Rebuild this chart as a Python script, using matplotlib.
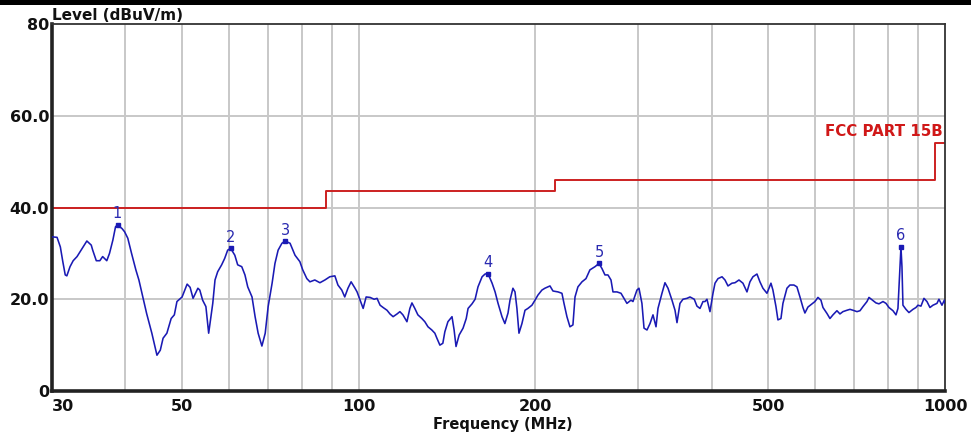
import matplotlib
matplotlib.use("Agg")
import matplotlib.pyplot as plt
from matplotlib.patches import Rectangle

# ---- data ----
freq_mhz = [30.0, 30.6, 31.0, 31.3, 31.6, 31.8, 32.2, 32.6, 33.1, 33.7, 34.4, 35.0, 35.2, 35.7,
            36.2, 36.6, 37.2, 37.6, 38.1, 38.5, 38.8, 39.5, 39.9, 40.4, 41.0, 41.7, 42.2, 42.9, 43.5,
            44.4, 45.3, 45.9, 46.4, 47.1, 47.9, 48.5, 49.0, 50.0, 51.0, 51.6, 52.2, 53.2,
            53.6, 54.2, 54.9, 55.5, 56.4, 56.9, 57.5, 58.4, 59.1, 59.8, 60.5, 61.5, 62.2, 63.2, 64.0, 64.7,
            65.8, 66.6, 67.4, 68.4, 69.3, 70.1, 71.2, 72.0, 72.9, 74.0, 74.9, 76.4, 77.9,
            79.4, 80.3, 81.6, 82.6, 84.2, 85.9, 87.6, 89.3, 91.1, 92.2, 93.6, 94.7, 95.9,
            97.1, 98.6, 99.4, 100.6, 101.8, 103.0, 104.6, 106.3, 107.5, 108.8, 110.1, 111.8, 113.1, 114.5, 116.3,
            117.6, 119.0, 120.9, 122.3, 123.3, 124.7, 126.2, 128.2, 129.7, 131.3, 133.3, 134.9, 136.0, 137.6, 139.2, 140.3, 142.0,
            144.3, 145.5, 146.6, 148.4, 150.7, 152.6, 153.7, 156.1, 158.0, 159.8, 162.4, 164.3, 166.2, 168.9, 170.9, 172.9,
            175.6, 177.6, 179.8, 181.2, 183.3, 184.8, 186.2, 187.7, 189.9, 192.2, 194.4, 197.5, 199.9, 202.2, 205.4, 207.8,
            212.0, 214.5, 218.8, 222.2, 224.0, 226.6, 229.3, 232.0, 233.9, 236.6, 240.4, 244.2, 248.0, 253.0, 257.0,
            260.0, 263.1, 266.2, 269.4, 271.5, 275.8, 280.2, 283.5, 286.8, 291.4, 293.7, 298.3, 300.7, 304.2, 306.7, 310.3,
            314.0, 317.7, 321.5, 324.0, 329.1, 333.0, 337.0, 342.3, 346.4, 349.1, 353.2, 357.4, 363.1, 367.4, 373.6, 377.6,
            382.1, 386.6, 389.7, 392.7, 397.4, 402.1, 405.3, 410.1, 416.6, 421.5, 426.5, 433.2, 438.4, 445.3, 452.3, 459.5,
            464.9, 470.4, 477.9, 483.5, 489.2, 497.0, 504.9, 508.8, 514.9, 518.9, 525.1, 529.2, 537.6, 543.9, 552.5, 559.1,
            565.8, 572.5, 576.9, 583.8, 593.1, 600.1, 607.2, 614.4, 619.3, 629.1, 636.5, 644.1, 654.2, 662.0, 669.8, 680.4,
            688.6, 696.8, 707.8, 716.2, 724.7, 736.1, 741.9, 753.7, 762.6, 771.6, 783.9, 793.2, 802.5, 815.2, 824.9, 831.3,
            837.9, 841.2, 844.5, 847.8, 857.9, 868.0, 881.8, 892.2, 899.2, 909.9, 920.7, 931.6, 942.6, 953.8, 968.9, 976.5,
            988.1, 997.4, 1000.0]
level_dbuv = [33.6, 33.5, 31.4, 28.2, 25.3, 25.1, 27.1, 28.4, 29.3, 30.9, 32.7, 31.8, 30.7, 28.4,
              28.4, 29.3, 28.4, 30.0, 32.9, 35.8, 36.2, 35.4, 34.7, 33.3, 30.0, 26.4, 24.2, 20.2, 16.9,
              12.6, 7.8, 8.9, 11.5, 12.6, 15.8, 16.6, 19.5, 20.5, 23.3, 22.6, 20.2, 22.4,
              22.0, 19.8, 18.4, 12.6, 19.1, 24.2, 26.0, 27.5, 28.9, 30.7, 31.1, 29.6, 27.5, 27.1, 25.3, 22.7,
              20.5, 16.2, 12.6, 9.8, 12.6, 18.4, 23.5, 27.8, 30.7, 32.2, 32.7, 32.2, 29.6,
              28.2, 26.4, 24.5, 23.8, 24.2, 23.6, 24.2, 24.9, 25.1, 23.1, 22.0, 20.5, 22.4,
              23.8, 22.4, 21.6, 19.8, 18.0, 20.5, 20.4, 20.0, 20.2, 18.7, 18.2, 17.6, 16.8, 16.2, 16.8,
              17.3, 16.6, 15.1, 18.0, 19.2, 18.0, 16.6, 15.8, 15.1, 14.0, 13.3, 12.6, 11.5, 10.0, 10.4, 12.9, 15.1,
              16.2, 13.3, 9.7, 12.2, 13.7, 15.8, 18.0, 19.0, 20.0, 22.7, 24.9, 25.5, 25.6, 23.5, 21.6, 19.1,
              16.2, 14.7, 17.0, 19.8, 22.4, 21.6, 18.0, 12.6, 14.7, 17.6, 18.0, 18.7, 19.8, 20.9, 22.0, 22.4,
              22.9, 21.8, 21.6, 21.3, 19.1, 16.2, 14.0, 14.4, 20.5, 22.7, 23.8, 24.5, 26.4, 27.1, 27.8,
              26.7, 25.3, 25.3, 24.2, 21.6, 21.6, 21.3, 20.2, 19.1, 19.8, 19.5, 22.0, 22.4, 19.1, 13.7, 13.3,
              14.7, 16.6, 14.0, 18.0, 21.3, 23.6, 22.4, 19.8, 17.6, 14.9, 19.1, 20.0, 20.2, 20.5, 20.0, 18.5,
              18.0, 19.5, 19.5, 20.0, 17.3, 21.3, 23.5, 24.5, 24.9, 24.2, 22.9, 23.5, 23.6, 24.2, 23.5, 21.6,
              23.8, 24.9, 25.5, 23.8, 22.4, 21.3, 23.5, 22.0, 18.4, 15.5, 15.8, 19.1, 22.4, 23.1, 23.1, 22.7,
              20.5, 18.2, 17.0, 18.3, 19.0, 19.5, 20.4, 19.8, 18.2, 16.9, 15.8, 16.6, 17.5, 16.8, 17.3, 17.6,
              17.8, 17.6, 17.3, 17.5, 18.4, 19.5, 20.4, 19.7, 19.2, 19.0, 19.5, 19.1, 18.2, 17.5, 16.6, 18.0,
              27.1, 31.4, 27.1, 18.7, 17.8, 17.1, 17.8, 18.2, 18.7, 18.5, 20.2, 19.5, 18.2, 18.7, 19.1, 20.0,
              18.7, 19.8, 19.2]

marker_ids = ["1", "2", "3", "4", "5", "6"]
marker_freq = [38.8, 60.5, 74.9, 166.2, 257.0, 841.2]
marker_level = [36.2, 31.1, 32.7, 25.6, 27.8, 31.4]

limit_freq = [30, 88, 216, 960, 1000]
limit_level = [40, 43.5, 46, 54, 54]
limit_name = "FCC PART 15B"

x_grid = [40, 50, 60, 70, 80, 90, 100, 200, 300, 400, 500, 600, 700, 800, 900]
x_tick_vals = [30, 50, 100, 200, 500, 1000]
x_tick_labels = ["30", "50", "100", "200", "500", "1000"]
y_tick_vals = [0, 20, 40, 60, 80]
y_tick_labels = ["0", "20.0", "40.0", "60.0", "80"]

# ---- figure ----
W, H = 971, 434
fig = plt.figure(figsize=(W / 100, H / 100), dpi=100)
fig.patch.set_facecolor("white")
fig.patches.append(Rectangle((0, 1 - 4.5 / H), 1, 4.5 / H, transform=fig.transFigure,
                             facecolor="black", edgecolor="none"))

ax = fig.add_axes([52 / W, 1 - 391 / H, (945 - 52) / W, (391 - 24) / H])
ax.set_xscale("log")
ax.set_xlim(30, 1000)
ax.set_ylim(0, 80)

for g in x_grid:
    ax.axvline(g, color="#c8c8c8", lw=1.4, zorder=1)
for g in [20, 40, 60]:
    ax.axhline(g, color="#c8c8c8", lw=1.4, zorder=1)

ax.plot(limit_freq, limit_level, drawstyle="steps-post", color="#cc2020", lw=1.4, zorder=2)
ax.plot(freq_mhz, level_dbuv, color="#1a1ab4", lw=1.15, zorder=3)
ax.plot(marker_freq, marker_level, ls="none", marker="s", ms=3.5, color="#1a1ab4", zorder=4)
for lab, f, l in zip(marker_ids, marker_freq, marker_level):
    ax.annotate(lab, (f, l), xytext=(0, 2.5), textcoords="offset points", ha="center",
                va="bottom", color="#2a2ab0", fontsize=10.5, family="DejaVu Sans")

ax.text(992, 56.6, limit_name, color="#d01818", fontweight="bold", fontsize=10.8,
        ha="right", va="center", family="DejaVu Sans")

ax.xaxis.set_major_locator(matplotlib.ticker.FixedLocator(x_tick_vals))
ax.xaxis.set_major_formatter(matplotlib.ticker.FixedFormatter(x_tick_labels))
ax.xaxis.set_minor_locator(matplotlib.ticker.NullLocator())
ax.set_yticks(y_tick_vals)
ax.set_yticklabels(y_tick_labels)
ax.tick_params(axis="both", length=0, labelsize=11.5, colors="#111111")
ax.tick_params(axis="x", pad=6)
ax.tick_params(axis="y", pad=2)
for lbl in ax.get_xticklabels() + ax.get_yticklabels():
    lbl.set_fontweight("bold")
for lbl in ax.get_xticklabels():
    if lbl.get_text() == "30":
        lbl.set_horizontalalignment("left")

for side in ["left", "bottom"]:
    ax.spines[side].set_linewidth(2.6)
    ax.spines[side].set_color("#222222")
for side in ["top", "right"]:
    ax.spines[side].set_linewidth(1.3)
    ax.spines[side].set_color("#333333")

fig.text(52 / W, 1 - 15.5 / H, "Level (dBuV/m)", ha="left", va="center",
         fontweight="bold", fontsize=11, color="#111111")
fig.text(503 / W, 1 - 424 / H, "Frequency (MHz)", ha="center", va="center",
         fontweight="bold", fontsize=10.5, color="#111111")

fig.savefig("out.png", dpi=100)
